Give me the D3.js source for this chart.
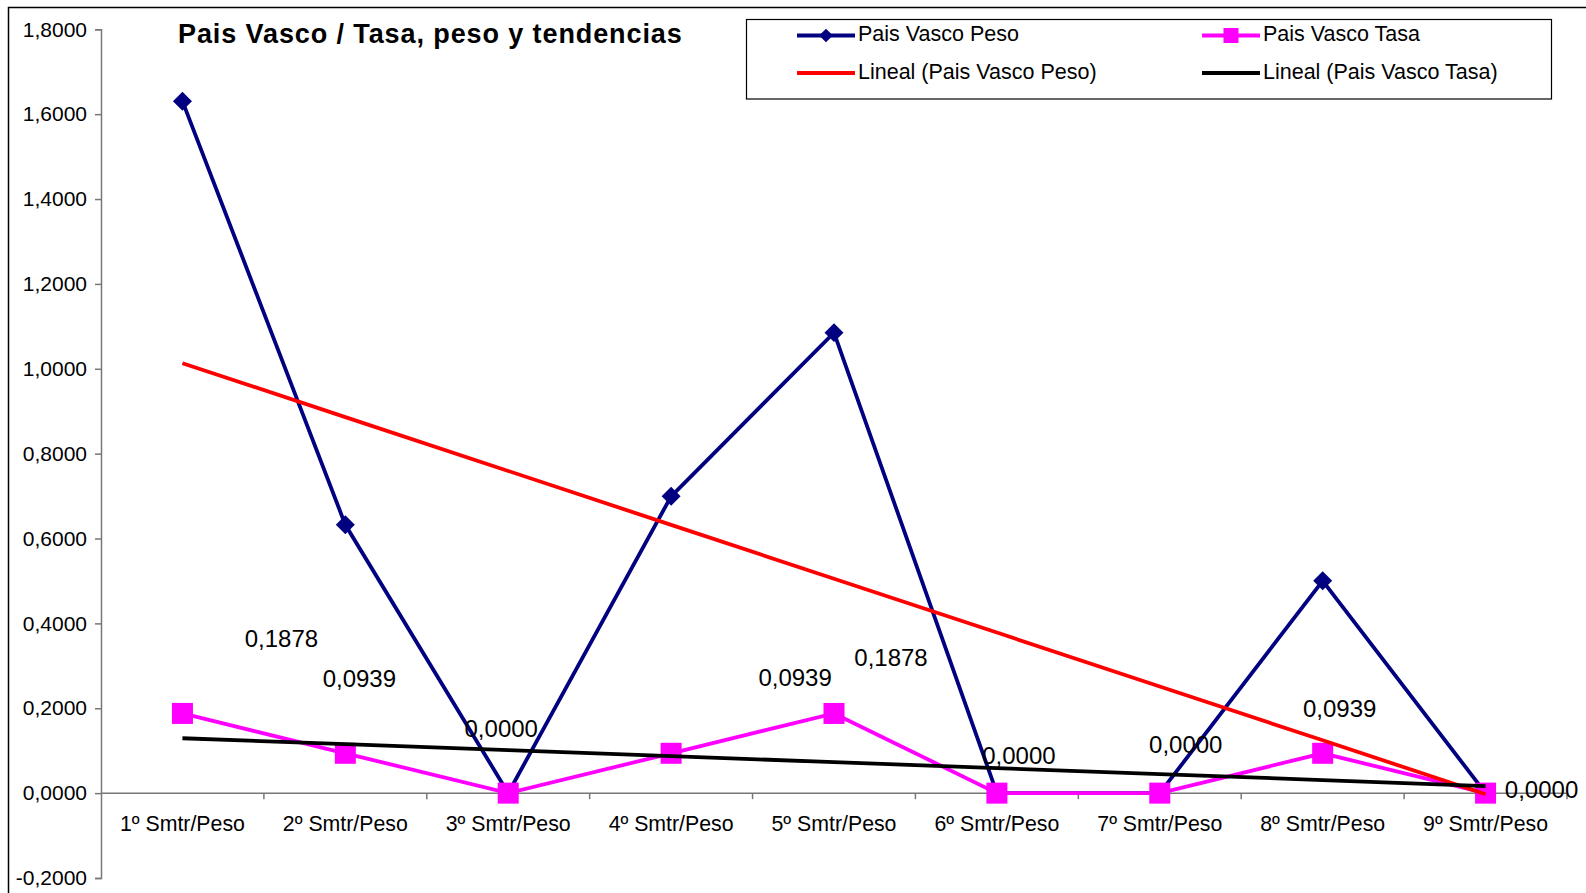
<!DOCTYPE html>
<html>
<head>
<meta charset="utf-8">
<script src="https://cdn.jsdelivr.net/npm/d3@7"></script>
<style>
  body { margin: 0; background: #fff; }
  svg { display: block; font-family: "Liberation Sans", Arial, sans-serif; }
</style>
</head>
<body>
<svg id="chart" width="1586" height="893"></svg>
<script>
// data
var categories = ['1º Smtr/Peso', '2º Smtr/Peso', '3º Smtr/Peso', '4º Smtr/Peso', '5º Smtr/Peso',
                  '6º Smtr/Peso', '7º Smtr/Peso', '8º Smtr/Peso', '9º Smtr/Peso'];
var pesoValues = [1.6306, 0.6323, 0.0000, 0.6994, 1.0852, 0.0000, 0.0000, 0.5004, 0.0000];
var tasaValues = [0.1878, 0.0939, 0.0000, 0.0939, 0.1878, 0.0000, 0.0000, 0.0939, 0.0000];
var yTicks = [-0.2, 0, 0.2, 0.4, 0.6, 0.8, 1.0, 1.2, 1.4, 1.6, 1.8];
var seriesNames = ['Pais Vasco Peso', 'Pais Vasco Tasa', 'Lineal (Pais Vasco Peso)', 'Lineal (Pais Vasco Tasa)'];
var chartTitle = 'Pais Vasco / Tasa, peso y tendencias';

// where the (dragged) data labels sit relative to their point, in px
var labelShift = [[99, -73], [14, -73], [-7, -62], [124, -74], [57, -54], [22, -35], [26, -46], [17, -43], [56, -1]];

var fmt = function (v) { return d3.format('.4f')(v).replace('.', ',').replace('−', '-'); };

function trend(vals) {
    // least squares line, like excel's "Lineal" trendline
    var n = vals.length;
    var xs = d3.range(1, n + 1);
    var mx = d3.mean(xs), my = d3.mean(vals);
    var sxy = d3.sum(xs, function (x, i) { return (x - mx) * (vals[i] - my); });
    var sxx = d3.sum(xs, function (x) { return (x - mx) * (x - mx); });
    var b = sxy / sxx;
    return xs.map(function (x) { return my + b * (x - mx); });
}

var svg = d3.select('#chart');
var plotLeft = 101, plotRight = 1567, plotTop = 29.3, plotBottom = 878;
var lw = 3.8;

var x = d3.scaleBand().domain(categories).range([plotLeft, plotRight]).padding(0);
var y = d3.scaleLinear().domain([-0.2, 1.8]).range([plotBottom, plotTop]);
var cx = function (d, i) { return x(categories[i]) + x.bandwidth() / 2; };

// outer frame
svg.append('rect').attr('x', 8.5).attr('y', 7.5).attr('width', 1600).attr('height', 900)
    .attr('fill', 'none').attr('stroke', '#000').attr('stroke-width', 1.5);

// y axis
var yAxis = svg.append('g').attr('transform', 'translate(' + plotLeft + ',0)')
    .call(d3.axisLeft(y).tickValues(yTicks).tickSize(6).tickFormat(fmt));
yAxis.select('.domain').attr('stroke', '#777').attr('stroke-width', 1.5);
yAxis.selectAll('.tick line').attr('stroke', '#777').attr('stroke-width', 1.5);
yAxis.selectAll('.tick text').attr('x', -14).attr('font-size', 21).attr('fill', '#000')
    .attr('font-family', '"Liberation Sans", Arial, sans-serif');

// x axis at zero, ticks on category boundaries
var xg = svg.append('g');
xg.append('line').attr('x1', plotLeft).attr('x2', plotRight).attr('y1', y(0)).attr('y2', y(0))
    .attr('stroke', '#777').attr('stroke-width', 1.5);
xg.selectAll('line.bt').data(categories).enter().append('line')
    .attr('class', 'bt')
    .attr('x1', function (d) { return x(d) + x.bandwidth(); })
    .attr('x2', function (d) { return x(d) + x.bandwidth(); })
    .attr('y1', y(0)).attr('y2', y(0) + 6)
    .attr('stroke', '#777').attr('stroke-width', 1.5);
xg.selectAll('text').data(categories).enter().append('text')
    .attr('x', cx).attr('y', y(0) + 32)
    .attr('text-anchor', 'middle').attr('dominant-baseline', 'middle')
    .attr('font-size', 21.3).text(function (d) { return d; });

var line = d3.line().x(function (d, i) { return cx(d, i); }).y(function (d) { return y(d); });

// Peso series
svg.append('path').datum(pesoValues).attr('d', line)
    .attr('fill', 'none').attr('stroke', '#000080').attr('stroke-width', lw);
svg.selectAll('path.dia').data(pesoValues).enter().append('path').attr('class', 'dia')
    .attr('d', d3.symbol().type(d3.symbolDiamond2).size(230))
    .attr('transform', function (d, i) { return 'translate(' + cx(d, i) + ',' + y(d) + ')'; })
    .attr('fill', '#000080');

// Tasa series
svg.append('path').datum(tasaValues).attr('d', line)
    .attr('fill', 'none').attr('stroke', '#ff00ff').attr('stroke-width', lw);
svg.selectAll('rect.sq').data(tasaValues).enter().append('rect').attr('class', 'sq')
    .attr('x', function (d, i) { return cx(d, i) - 10.5; })
    .attr('y', function (d) { return y(d) - 10.5; })
    .attr('width', 21).attr('height', 21).attr('fill', '#ff00ff');

// trend lines
svg.append('path').datum(trend(pesoValues)).attr('d', line)
    .attr('fill', 'none').attr('stroke', '#ff0000').attr('stroke-width', lw);
svg.append('path').datum(trend(tasaValues)).attr('d', line)
    .attr('fill', 'none').attr('stroke', '#000').attr('stroke-width', lw);

// data labels (Tasa)
svg.selectAll('text.lbl').data(tasaValues).enter().append('text').attr('class', 'lbl')
    .attr('x', function (d, i) { return cx(d, i) + labelShift[i][0]; })
    .attr('y', function (d, i) { return y(d) + labelShift[i][1]; })
    .attr('text-anchor', 'middle').attr('dominant-baseline', 'middle')
    .attr('font-size', 24).text(fmt);

// title
svg.append('text').attr('x', 178).attr('y', 36).attr('dominant-baseline', 'middle')
    .attr('font-size', 27).attr('font-weight', 'bold').attr('letter-spacing', 0.9).text(chartTitle);

// legend
var lg = svg.append('g');
lg.append('rect').attr('x', 746.5).attr('y', 19.5).attr('width', 805).attr('height', 79.5)
    .attr('fill', '#fff').attr('stroke', '#000').attr('stroke-width', 1.2);
var legendItems = [
    {name: seriesNames[0], color: '#000080', mark: 'dia', lx: 797, ly: 35.5},
    {name: seriesNames[1], color: '#ff00ff', mark: 'sq', lx: 1202, ly: 35.5},
    {name: seriesNames[2], color: '#ff0000', mark: null, lx: 797, ly: 73},
    {name: seriesNames[3], color: '#000', mark: null, lx: 1202, ly: 73}
];
var li = lg.selectAll('g.item').data(legendItems).enter().append('g').attr('class', 'item')
    .attr('transform', function (d) { return 'translate(' + d.lx + ',' + d.ly + ')'; });
li.append('line').attr('x1', 0).attr('x2', 58).attr('y1', 0).attr('y2', 0)
    .attr('stroke', function (d) { return d.color; }).attr('stroke-width', lw);
li.filter(function (d) { return d.mark === 'dia'; }).append('path')
    .attr('d', d3.symbol().type(d3.symbolDiamond2).size(120))
    .attr('transform', 'translate(29,0)').attr('fill', function (d) { return d.color; });
li.filter(function (d) { return d.mark === 'sq'; }).append('rect')
    .attr('x', 21.5).attr('y', -7.5).attr('width', 15).attr('height', 15)
    .attr('fill', function (d) { return d.color; });
li.append('text').attr('x', 61).attr('y', 0).attr('dominant-baseline', 'middle')
    .attr('font-size', 21.5).text(function (d) { return d.name; });
</script>
</body>
</html>
